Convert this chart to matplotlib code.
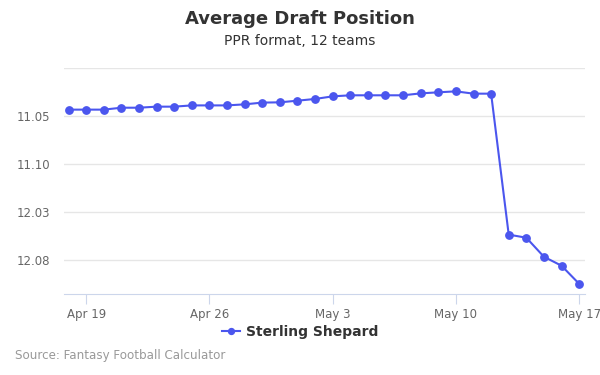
import numpy as np
import pandas as pd
import matplotlib
matplotlib.use("Agg")
import matplotlib.pyplot as plt
import matplotlib.dates as mdates

# overall pick number per day (12 team league), Apr 18 .. May 17
dates = pd.date_range("2018-04-18", "2018-05-17", freq="D")
picks = [124.34, 124.34, 124.34, 124.14, 124.14, 124.03, 124.03, 123.90, 123.90, 123.90,
         123.79, 123.61, 123.58, 123.41, 123.23, 122.96, 122.85, 122.85, 122.85, 122.85,
         122.65, 122.54, 122.44, 122.68, 122.68, 137.33, 137.65, 139.63, 140.56, 142.44]
tick_picks = [120, 125, 130, 135, 140]
tick_dates = pd.to_datetime(["2018-04-19", "2018-04-26", "2018-05-03", "2018-05-10", "2018-05-17"])
player = "Sterling Shepard"
teams = 12


def pick_label(p):
    p = int(round(p))
    return f"{(p - 1) // teams + 1}.{(p - 1) % teams + 1:02d}"


line_color = "#4b56ee"
grid_color = "#e6e6e6"
axis_color = "#ccd6eb"

fig = plt.figure(figsize=(6, 3.75), dpi=100)
ax = fig.add_axes([0.107, 0.216, 0.868, 0.603])

ax.plot(dates, picks, color=line_color, lw=1.5, marker="o", ms=5.3,
        label=player, zorder=3, clip_on=False)

ax.set_ylim(143.5, 120)
ax.set_yticks(tick_picks)
ax.set_yticklabels([""] + [pick_label(p) for p in tick_picks[1:]])
ax.grid(axis="y", color=grid_color, lw=1)
ax.tick_params(axis="y", length=0, labelsize=8.5, labelcolor="#666666", pad=10)

ax.set_xlim(dates[0] - pd.Timedelta(hours=6), dates[-1] + pd.Timedelta(hours=8))
ax.set_xticks(tick_dates)
ax.xaxis.set_major_formatter(mdates.DateFormatter("%b %-d"))
ax.tick_params(axis="x", length=7, color=axis_color, labelsize=8.5,
               labelcolor="#666666", pad=3)

for side in ["top", "right", "left"]:
    ax.spines[side].set_visible(False)
ax.spines["bottom"].set_color(axis_color)

fig.text(0.5, 0.948, "Average Draft Position", ha="center", va="center",
         fontsize=13, fontweight="bold", color="#333333")
fig.text(0.5, 0.891, "PPR format, 12 teams", ha="center", va="center",
         fontsize=10, color="#333333")

leg = fig.legend(loc="center", bbox_to_anchor=(0.5, 0.114), frameon=False,
                 prop={"weight": "bold", "size": 10}, handlelength=1.3,
                 handletextpad=0.4, markerscale=0.8)
for t in leg.get_texts():
    t.set_color("#333333")

fig.text(0.025, 0.051, "Source: Fantasy Football Calculator", ha="left", va="center",
         fontsize=8.6, color="#999999")

fig.savefig("out.png", dpi=100)
